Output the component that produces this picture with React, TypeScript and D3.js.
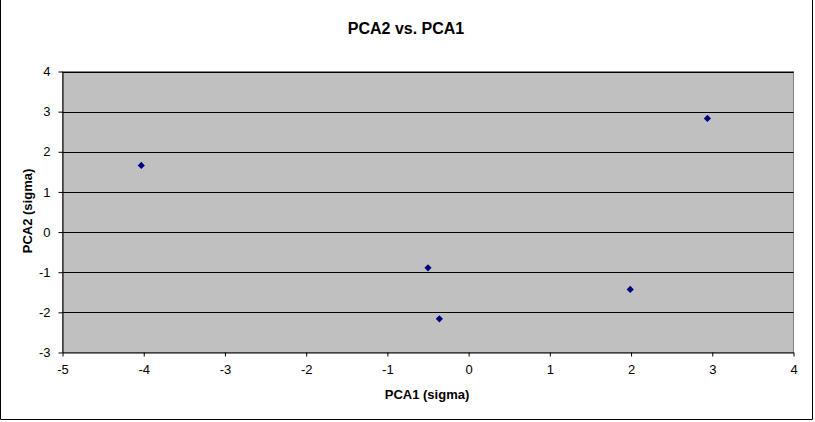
import React, { useEffect, useRef } from 'react';
import * as d3 from 'd3';

// PCA scores
const pca1 = [-4.03, 2.94, -0.5, -0.36, 1.99];
const pca2 = [1.66, 2.83, -0.89, -2.16, -1.43];
const xTicks = [-5, -4, -3, -2, -1, 0, 1, 2, 3, 4];
const yTicks = [-3, -2, -1, 0, 1, 2, 3, 4];

const App: React.FC = () => {
  const ref = useRef<SVGSVGElement>(null);

  useEffect(() => {
    if (!ref.current) return;
    const svg = d3.select(ref.current);
    svg.selectAll('*').remove();

    const width = 815;
    const height = 422;
    const plot = { left: 62.5, right: 793.5, top: 71.5, bottom: 352.5 };
    const font = 'Liberation Sans, Arial, sans-serif';
    const fmt = (d: d3.NumberValue) => String(d);

    const x = d3.scaleLinear().domain([-5, 4]).range([plot.left, plot.right]);
    const y = d3.scaleLinear().domain([-3, 4]).range([plot.bottom, plot.top]);

    svg.append('rect')
      .attr('width', width)
      .attr('height', height)
      .attr('fill', 'white');

    // outer chart border
    svg.append('path')
      .attr('d', `M0.5,0 V419.5 H812.5 V0`)
      .attr('fill', 'none')
      .attr('stroke', 'black');

    // plot area
    svg.append('rect')
      .attr('x', plot.left)
      .attr('y', plot.top)
      .attr('width', plot.right - plot.left)
      .attr('height', plot.bottom - plot.top)
      .attr('fill', '#C0C0C0')
      .attr('stroke', '#808080');

    // gridlines
    svg.selectAll('.grid')
      .data(yTicks.filter(t => t > -3))
      .enter()
      .append('line')
        .attr('x1', plot.left)
        .attr('x2', plot.right)
        .attr('y1', d => Math.round(y(d)) + 0.5)
        .attr('y2', d => Math.round(y(d)) + 0.5)
        .attr('stroke', 'black');

    // axes
    const xAxis = d3.axisBottom(x).tickValues(xTicks).tickFormat(fmt)
      .tickSize(4).tickSizeOuter(0).tickPadding(8);
    const yAxis = d3.axisLeft(y).tickValues(yTicks).tickFormat(fmt)
      .tickSize(4).tickSizeOuter(0).tickPadding(8);

    const gx = svg.append('g').attr('transform', `translate(0,${plot.bottom})`).call(xAxis);
    const gy = svg.append('g').attr('transform', `translate(${plot.left},0)`).call(yAxis);

    [gx, gy].forEach(g => {
      g.select('.domain').attr('stroke', 'black');
      g.selectAll('.tick line').attr('stroke', 'black');
      g.selectAll('.tick text')
        .attr('fill', 'black')
        .attr('font-family', font)
        .attr('font-size', '13px');
    });

    // markers: square diamonds like Excel
    const diamond = d3.symbol().type(d3.symbolSquare).size(26);
    svg.selectAll('.pt')
      .data(pca1.map((v, i) => [v, pca2[i]]))
      .enter()
      .append('path')
        .attr('d', diamond)
        .attr('transform', d => `translate(${x(d[0])},${y(d[1])}) rotate(45)`)
        .attr('fill', '#000080');

    // titles
    svg.append('text')
      .attr('x', 406)
      .attr('y', 34)
      .attr('text-anchor', 'middle')
      .attr('font-family', font)
      .attr('font-size', '16px')
      .attr('font-weight', 'bold')
      .text('PCA2 vs. PCA1');

    svg.append('text')
      .attr('x', 427)
      .attr('y', 399)
      .attr('text-anchor', 'middle')
      .attr('font-family', font)
      .attr('font-size', '13px')
      .attr('font-weight', 'bold')
      .text('PCA1 (sigma)');

    svg.append('text')
      .attr('transform', 'translate(32,211) rotate(-90)')
      .attr('text-anchor', 'middle')
      .attr('font-family', font)
      .attr('font-size', '13px')
      .attr('font-weight', 'bold')
      .text('PCA2 (sigma)');
  }, []);

  return (
    <svg
      ref={ref}
      width={815}
      height={422}
      style={{ position: 'absolute', left: 0, top: 0, display: 'block' }}
    />
  );
};

export default App;
